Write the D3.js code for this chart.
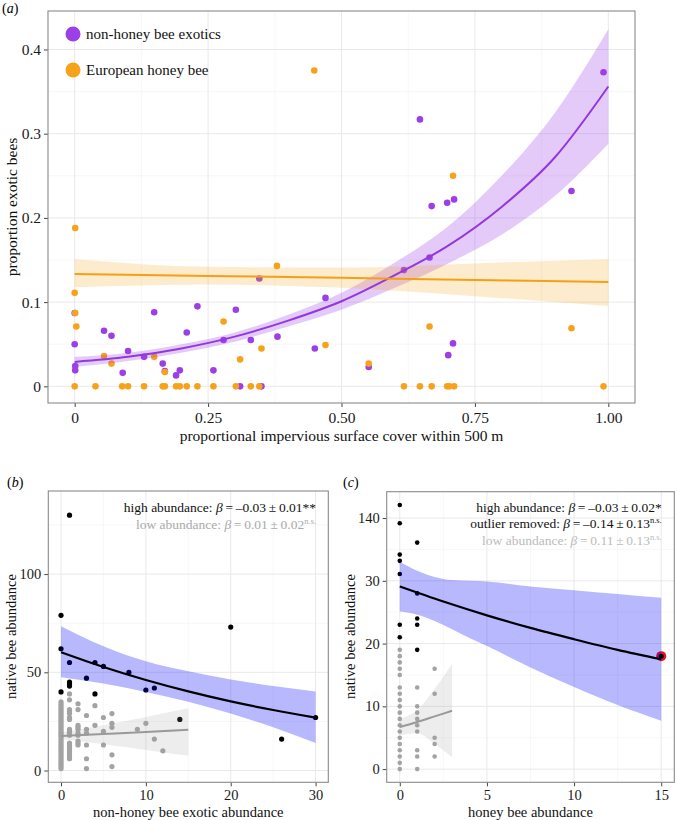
<!DOCTYPE html>
<html>
<head>
<meta charset="utf-8">
<script src="https://cdn.jsdelivr.net/npm/d3@7"></script>
<style>
  body { margin: 0; background: #fff; }
  svg, svg text { font-family: "Liberation Serif", "Times New Roman", "DejaVu Serif", serif; }
</style>
</head>
<body>
<div id="chart"></div>
<script>
(function(d3) {
    'use strict'

    // ---- panel (a): proportion exotic bees vs impervious cover ----
    var exoticX = [0, 0, 0.001, 0.001, 0.055, 0.069, 0.090, 0.100, 0.130, 0.149, 0.165, 0.169, 0.190, 0.197, 0.210, 0.230, 0.260, 0.279, 0.302, 0.310, 0.330, 0.346, 0.350, 0.380, 0.450, 0.470, 0.551, 0.617, 0.647, 0.665, 0.669, 0.698, 0.700, 0.709, 0.711, 0.931, 0.991];
    var exoticY = [0.087, 0.050, 0.024, 0.019, 0.066, 0.060, 0.016, 0.042, 0.035, 0.088, 0.027, 0.018, 0.013, 0.019, 0.064, 0.095, 0.019, 0.055, 0.091, 0, 0.055, 0.128, 0, 0.059, 0.045, 0.105, 0.023, 0.138, 0.317, 0.153, 0.214, 0.218, 0.037, 0.051, 0.222, 0.232, 0.373];
    var honeyX = [0.001, 0, 0.001, 0.003, 0.055, 0.069, 0.149, 0.169, 0.279, 0.310, 0.350, 0.379, 0.449, 0.470, 0.551, 0.665, 0.709, 0.931,
                  0, 0.039, 0.089, 0.100, 0.130, 0.165, 0.169, 0.190, 0.197, 0.210, 0.230, 0.260, 0.302, 0.330, 0.346, 0.617, 0.647, 0.669, 0.698, 0.702, 0.711, 0.991];
    var honeyY = [0.188, 0.111, 0.087, 0.071, 0.036, 0.027, 0.035, 0.017, 0.077, 0.032, 0.045, 0.143, 0.375, 0.049, 0.027, 0.071, 0.250, 0.069,
                  0, 0, 0, 0, 0, 0, 0, 0, 0, 0, 0, 0, 0, 0, 0, 0, 0, 0, 0, 0, 0, 0];

    // fitted curves
    var exoticFitX = [0, 0.1, 0.2, 0.3, 0.4, 0.5, 0.6, 0.7, 0.8, 0.9, 1.0];
    var exoticFit = [0.029, 0.035, 0.045, 0.059, 0.078, 0.101, 0.132, 0.167, 0.213, 0.272, 0.356];
    var exoticLo = [0.023, 0.030, 0.040, 0.053, 0.071, 0.091, 0.117, 0.146, 0.180, 0.226, 0.288];
    var exoticHi = [0.035, 0.040, 0.050, 0.064, 0.085, 0.111, 0.147, 0.190, 0.250, 0.325, 0.424];
    var honeyFitX = [0, 0.25, 0.5, 0.75, 1];
    var honeyFit = [0.1334, 0.1311, 0.1288, 0.1264, 0.1239];
    var honeyLo = [0.1176, 0.121, 0.117, 0.107, 0.0954];
    var honeyHi = [0.151, 0.142, 0.141, 0.146, 0.151];

    var aXTicks = [0, 0.25, 0.5, 0.75, 1];
    var aXLabels = ['0', '0.25', '0.50', '0.75', '1.00'];
    var aYTicks = [0, 0.1, 0.2, 0.3, 0.4];
    var aYLabels = ['0', '0.1', '0.2', '0.3', '0.4'];
    var legendNames = ['non-honey bee exotics', 'European honey bee'];

    // ---- panel (b): native vs non-honey bee exotic abundance ----
    var bHighX = [1, 0, 20, 0, 1, 3, 4, 5, 8, 10, 11, 0, 1, 1, 1, 4, 14, 26, 30];
    var bHighY = [130, 79, 73, 62, 55, 47, 55, 53, 50, 41, 42, 40, 45, 44, 43, 39, 26, 16, 27];
    var bLowX = [0, 0, 0, 0, 0, 0, 0, 0, 0, 0, 0, 0, 0, 0, 0, 0, 0, 0, 0, 0, 0, 0, 0, 0, 0, 0, 0, 0, 0, 0, 0, 0, 0, 0, 0,
                 1, 1, 1, 1, 1, 1, 1, 1, 1, 1, 1, 1, 1, 1, 1, 1, 1, 1, 1, 1,
                 2, 2, 2, 2, 2, 2, 2, 2, 2, 2,
                 3, 3, 3, 3, 3, 3,
                 4, 4, 5, 5, 5, 6, 6, 6, 6, 6, 9, 10, 11, 12];
    var bLowY = [1, 2, 3, 4, 5, 6, 7, 8, 9, 10, 11, 12, 13, 14, 15, 16, 17, 18, 19, 20, 21, 22, 23, 24, 25, 26, 27, 28, 29, 30, 31, 32, 33, 34, 35,
                 39, 36, 31, 30, 29, 27, 26, 21, 20, 19, 18, 14, 13, 12, 11, 10, 9, 8, 7, 6,
                 34, 31, 23, 22, 21, 19, 18, 15, 14, 13,
                 28, 21, 19, 13, 6, 1,
                 33, 23, 27, 20, 13, 29, 24, 22, 8, 2, 21, 24, 16, 10];
    var bFitX = [0, 5, 10, 15, 20, 25, 30];
    var bHighFit = [60.2, 52.7, 46.1, 40.3, 35.2, 30.8, 26.9];
    var bHighLo = [47.5, 44.3, 40, 35, 29, 22, 14];
    var bHighHi = [73.5, 63.3, 55.6, 50.5, 46.3, 43.0, 40.2];
    var bLowFitX = [0, 5, 10, 15];
    var bLowFit = [17.6, 18.6, 19.6, 20.7];
    var bLowLo = [16.0, 13.4, 10.5, 7.5];
    var bLowHi = [19.3, 23, 27.3, 31.7];
    var bXTicks = [0, 10, 20, 30];
    var bYTicks = [0, 50, 100];
    var bStats = [
        ['high abundance: ', '\u2009=\u2009\u20130.03\u2009\u00b1\u20090.01', '**', ''],
        ['low abundance: ', '\u2009=\u20090.01\u2009\u00b1\u20090.02', '', 'n.s.']
    ];

    // ---- panel (c): native vs honey bee abundance ----
    var cHighX = [0, 0, 0, 0, 0, 0, 0, 1, 1, 1, 1, 1];
    var cHighY = [163, 131, 76, 65, 42, 23, 21, 97, 28, 24, 23, 19];
    var cOutlier = [15, 18];
    var cLowX = [0, 0, 0, 0, 0, 0, 0, 0, 0, 0, 0, 0, 0, 0, 0, 0, 0, 0, 0,
                 1, 1, 1, 1, 1, 1, 1, 1, 1,
                 2, 2, 2, 2, 2];
    var cLowY = [19, 18, 17, 16, 15, 13, 12, 11, 10, 9, 8, 7, 6, 5, 4, 3, 2, 1, 0,
                 13, 10, 9, 8, 7, 6, 3, 2, 0,
                 16, 12, 5, 4, 2];
    var cFitX = [0, 2.5, 5, 7.5, 10, 12.5, 15];
    var cHighFit = [29.1, 26.7, 24.5, 22.5, 20.7, 19.0, 17.5];
    var cBandX = [0, 1, 2, 3, 4, 5, 7.5, 10, 12.5, 15];
    var cHighLo = [25.1, 24.6, 23.6, 22.3, 20.9, 19.6, 16.2, 13.1, 10.2, 7.7];
    var cHighHi = [63, 47.7, 36.8, 31.4, 30.3, 29.9, 29.1, 28.5, 27.9, 27.3];
    var cLowFitX = [0, 1, 2, 3];
    var cLowFit = [6.7, 7.5, 8.4, 9.3];
    var cLowLo = [5.4, 5.7, 4.0, 1.9];
    var cLowHi = [8.0, 9.4, 12.8, 16.8];
    var cXTicks = [0, 5, 10, 15];
    var cYTicks = [0, 10, 20, 30, 140];
    var cStats = [
        ['high abundance: ', '\u2009=\u2009\u20130.03\u2009\u00b1\u20090.02', '*', ''],
        ['outlier removed: ', '\u2009=\u2009\u20130.14\u2009\u00b1\u20090.13', '', 'n.s.'],
        ['low abundance: ', '\u2009=\u20090.11\u2009\u00b1\u20090.13', '', 'n.s.']
    ];

    var purple = '#9d3fe6';
    var orange = '#f7a21b';
    var serif = '"Liberation Serif", "Times New Roman", serif';

    var svg = d3.select('#chart')
        .append('svg')
        .attr('width', 677)
        .attr('height', 820)
        .attr('font-family', serif);

    function zip(xs, ys) {
        return xs.map(function(x, i) { return [x, ys[i]]; });
    }
    function zip3(xs, lo, hi) {
        return xs.map(function(x, i) { return [x, lo[i], hi[i]]; });
    }

    // frame, grid and axes for one panel
    function panel(o) {
        var g = svg.append('g').attr('transform', 'translate(' + o.left + ',' + o.top + ')');
        var w = o.right - o.left, h = o.bottom - o.top;
        var grid = g.append('g');
        grid.selectAll('.xm').data(o.xMinor).enter().append('line')
            .attr('x1', function(d) { return o.x(d); }).attr('x2', function(d) { return o.x(d); })
            .attr('y1', 0).attr('y2', h).attr('stroke', '#f3f3f3').attr('stroke-width', 0.7);
        grid.selectAll('.ym').data(o.yMinor).enter().append('line')
            .attr('y1', function(d) { return o.y(d); }).attr('y2', function(d) { return o.y(d); })
            .attr('x1', 0).attr('x2', w).attr('stroke', '#f3f3f3').attr('stroke-width', 0.7);
        grid.selectAll('.xM').data(o.xTicks).enter().append('line')
            .attr('x1', function(d) { return o.x(d); }).attr('x2', function(d) { return o.x(d); })
            .attr('y1', 0).attr('y2', h).attr('stroke', '#e9e9e9').attr('stroke-width', 1);
        grid.selectAll('.yM').data(o.yTicks).enter().append('line')
            .attr('y1', function(d) { return o.y(d); }).attr('y2', function(d) { return o.y(d); })
            .attr('x1', 0).attr('x2', w).attr('stroke', '#e9e9e9').attr('stroke-width', 1);

        var xa = g.append('g').attr('transform', 'translate(0,' + h + ')')
            .call(d3.axisBottom(o.x).tickValues(o.xTicks).tickSize(4).tickPadding(o.xPad)
                .tickFormat(function(d, i) { return o.xLabels ? o.xLabels[i] : d; }));
        var ya = g.append('g')
            .call(d3.axisLeft(o.y).tickValues(o.yTicks).tickSize(4).tickPadding(3)
                .tickFormat(function(d, i) { return o.yLabels ? o.yLabels[i] : d; }));
        [xa, ya].forEach(function(a) {
            a.select('.domain').remove();
            a.attr('font-family', serif).attr('font-size', o.fs);
            a.selectAll('line').attr('stroke', '#444');
            a.selectAll('text').attr('fill', '#1a1a1a');
        });
        g.append('rect').attr('class', 'border')
            .attr('width', w).attr('height', h)
            .attr('fill', 'none').attr('stroke', '#8a8a8a').attr('stroke-width', 1.1);
        return g;
    }

    function dots(g, pts, x, y, r, color) {
        g.append('g').selectAll('circle').data(pts).enter().append('circle')
            .attr('cx', function(d) { return x(d[0]); })
            .attr('cy', function(d) { return y(d[1]); })
            .attr('r', r).attr('fill', color);
    }

    function band(g, pts, x, y, color, op) {
        g.append('path').datum(pts)
            .attr('d', d3.area().curve(d3.curveMonotoneX)
                .x(function(d) { return x(d[0]); })
                .y0(function(d) { return y(d[1]); })
                .y1(function(d) { return y(d[2]); }))
            .attr('fill', color).attr('fill-opacity', op);
    }

    function fit(g, pts, x, y, color, sw) {
        g.append('path').datum(pts)
            .attr('d', d3.line().curve(d3.curveMonotoneX)
                .x(function(d) { return x(d[0]); })
                .y(function(d) { return y(d[1]); }))
            .attr('fill', 'none').attr('stroke', color).attr('stroke-width', sw);
    }

    function panelLabel(x, y, letter) {
        var t = svg.append('text').attr('x', x).attr('y', y).attr('font-size', 14);
        t.append('tspan').text('(');
        t.append('tspan').attr('font-style', 'italic').text(letter);
        t.append('tspan').text(')');
    }

    function axisTitle(x, y, text, fs, rotate) {
        svg.append('text')
            .attr('transform', 'translate(' + x + ',' + y + ')' + (rotate ? ' rotate(-90)' : ''))
            .attr('text-anchor', 'middle').attr('font-size', fs).attr('fill', '#111')
            .text(text);
    }

    function stats(g, x, y0, rows, colors) {
        rows.forEach(function(r, i) {
            var t = g.append('text').attr('x', x).attr('y', y0 + i * 16.5)
                .attr('text-anchor', 'end').attr('font-size', 13.5).attr('fill', colors[i]);
            t.append('tspan').text(r[0]);
            t.append('tspan').attr('font-style', 'italic').text('\u03b2');
            t.append('tspan').text(r[1] + r[2]);
            if (r[3]) {
                t.append('tspan').attr('font-size', 8.5).attr('dy', -5).text(r[3]);
            }
        });
    }

    // ================= panel (a) =================
    var aBox = { left: 48, top: 11, right: 635, bottom: 403 };
    var ax = d3.scaleLinear().domain([-0.05, 1.05]).range([0, aBox.right - aBox.left]);
    var ay = d3.scaleLinear().domain([-0.0198, 0.4457]).range([aBox.bottom - aBox.top, 0]);
    var ga = panel({
        left: aBox.left, top: aBox.top, right: aBox.right, bottom: aBox.bottom, x: ax, y: ay,
        xTicks: aXTicks, xLabels: aXLabels, xMinor: [0.125, 0.375, 0.625, 0.875],
        yTicks: aYTicks, yLabels: aYLabels, yMinor: [0.05, 0.15, 0.25, 0.35], fs: 15.5, xPad: 5
    });
    dots(ga, zip(exoticX, exoticY), ax, ay, 3.3, purple);
    dots(ga, zip(honeyX, honeyY), ax, ay, 3.3, orange);
    band(ga, zip3(exoticFitX, exoticLo, exoticHi), ax, ay, purple, 0.28);
    band(ga, zip3(honeyFitX, honeyLo, honeyHi), ax, ay, orange, 0.22);
    fit(ga, zip(exoticFitX, exoticFit), ax, ay, '#9338dc', 2);
    fit(ga, zip(honeyFitX, honeyFit), ax, ay, '#f5a014', 2);

    var legend = svg.append('g');
    legendNames.forEach(function(name, i) {
        legend.append('circle').attr('cx', 73).attr('cy', 34 + i * 36).attr('r', 7.5)
            .attr('fill', i === 0 ? purple : orange);
        legend.append('text').attr('x', 86).attr('y', 39 + i * 36)
            .attr('font-size', 15).attr('fill', '#111').text(name);
    });

    panelLabel(2, 13, 'a');
    axisTitle(17, 207, 'proportion exotic bees', 15.5, true);
    axisTitle(341.5, 441, 'proportional impervious surface cover within 500 m', 15.5, false);

    // ================= panel (b) =================
    var bBox = { left: 48.3, top: 491, right: 328.3, bottom: 782.3 };
    var bx = d3.scaleLinear().domain([-1.5, 31.5]).range([0, bBox.right - bBox.left]);
    var by = d3.scaleLinear().domain([-6, 142.3]).range([bBox.bottom - bBox.top, 0]);
    var gb = panel({
        left: bBox.left, top: bBox.top, right: bBox.right, bottom: bBox.bottom, x: bx, y: by,
        xTicks: bXTicks, xMinor: [5, 15, 25],
        yTicks: bYTicks, yMinor: [25, 75, 125], fs: 14.5, xPad: 3
    });
    dots(gb, zip(bLowX, bLowY), bx, by, 2.6, '#a3a3a3');
    dots(gb, zip(bHighX, bHighY), bx, by, 2.6, '#000');
    band(gb, zip3(bLowFitX, bLowLo, bLowHi), bx, by, '#999', 0.18);
    band(gb, zip3(bFitX, bHighLo, bHighHi), bx, by, '#0000ff', 0.28);
    fit(gb, zip(bLowFitX, bLowFit), bx, by, '#999', 2);
    fit(gb, zip(bFitX, bHighFit), bx, by, '#000', 2.2);
    stats(gb, bx(30) + 0.5, 21, bStats, ['#111', '#aaa']);

    panelLabel(7, 487, 'b');
    axisTitle(15.5, 636.5, 'native bee abundance', 14.5, true);
    axisTitle(188.3, 817, 'non-honey bee exotic abundance', 14.5, false);

    // ================= panel (c) =================
    var cBox = { left: 386.7, top: 491.7, right: 674.3, bottom: 782.3 };
    var cx = d3.scaleLinear().domain([-0.75, 15.75]).range([0, cBox.right - cBox.left]);
    // broken y axis: 0-30 linear, 30-140 squeezed into one step
    var ct = d3.scaleLinear().domain([-2.1, 44.2]).range([cBox.bottom - cBox.top, 0]);
    var cy = d3.scaleLinear().domain([0, 30, 140]).range([ct(0), ct(30), ct(40)]);
    var gc = panel({
        left: cBox.left, top: cBox.top, right: cBox.right, bottom: cBox.bottom, x: cx, y: cy,
        xTicks: cXTicks, xMinor: [2.5, 7.5, 12.5],
        yTicks: cYTicks, yMinor: [5, 15, 25, 85], fs: 14.5, xPad: 3
    });
    dots(gc, zip(cLowX, cLowY), cx, cy, 2.3, '#a3a3a3');
    dots(gc, zip(cHighX, cHighY), cx, cy, 2.3, '#000');
    gc.append('circle').attr('cx', cx(cOutlier[0])).attr('cy', cy(cOutlier[1]))
        .attr('r', 5).attr('fill', '#e8141c');
    dots(gc, [cOutlier], cx, cy, 2.5, '#000');
    band(gc, zip3(cLowFitX, cLowLo, cLowHi), cx, cy, '#999', 0.18);
    band(gc, zip3(cBandX, cHighLo, cHighHi), cx, cy, '#0000ff', 0.28);
    fit(gc, zip(cLowFitX, cLowFit), cx, cy, '#999', 2);
    fit(gc, zip(cFitX, cHighFit), cx, cy, '#000', 2.2);
    stats(gc, cx(15) + 0.5, 20, cStats, ['#111', '#111', '#bbb']);

    panelLabel(343, 487, 'c');
    axisTitle(355, 636.5, 'native bee abundance', 14.5, true);
    axisTitle(530.5, 817, 'honey bee abundance', 14.5, false);

})(window.d3);
</script>
</body>
</html>
